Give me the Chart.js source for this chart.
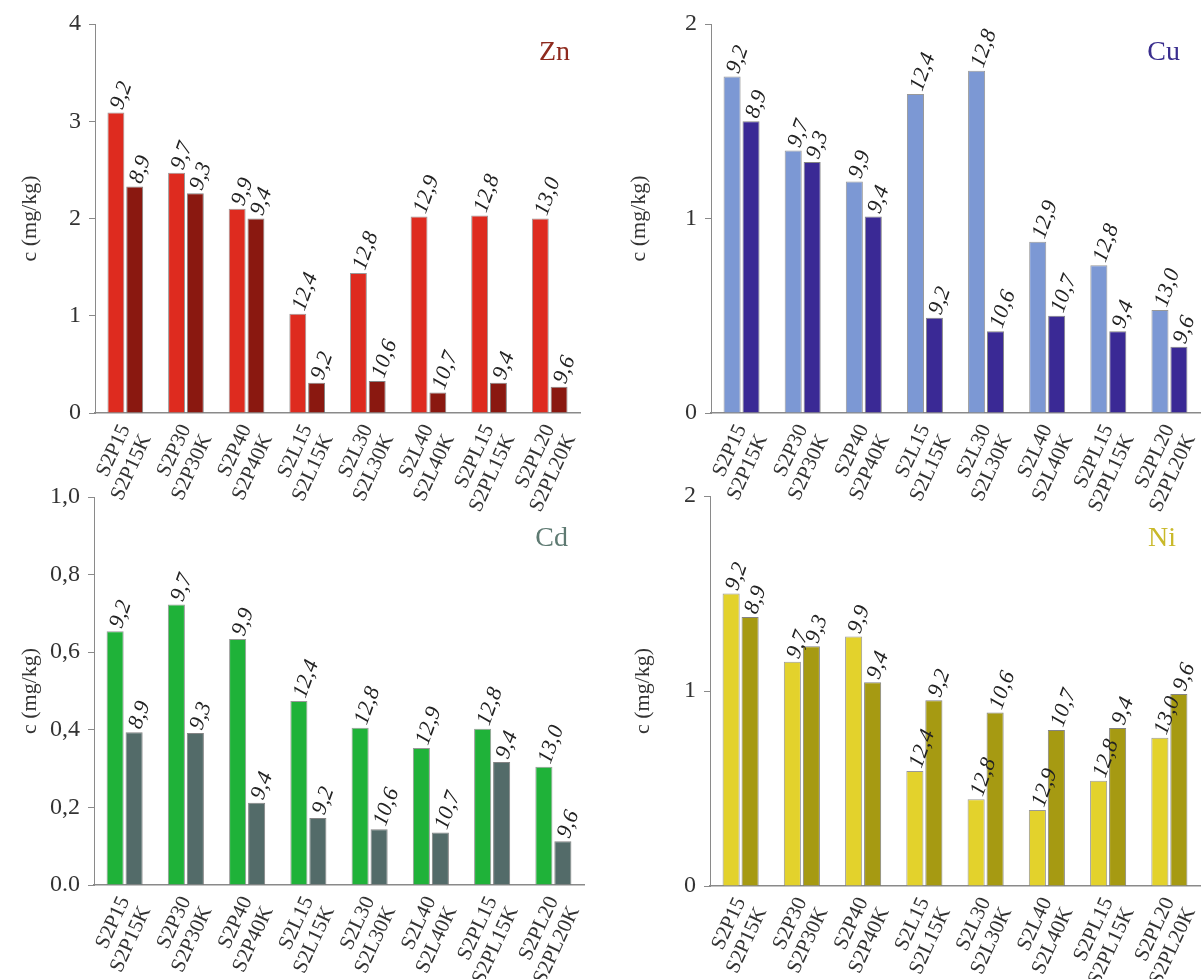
<!DOCTYPE html>
<html>
<head>
<meta charset="utf-8">
<script src="https://cdn.jsdelivr.net/npm/chart.js"></script>
<style>
  html, body { margin: 0; padding: 0; background: #fff; }
  #page { position: relative; width: 1201px; height: 979px; overflow: hidden; background: #fff; }
  canvas { position: absolute; }
</style>
</head>
<body>
<div id="page">
  <canvas id="zn"></canvas>
  <canvas id="cu"></canvas>
  <canvas id="cd"></canvas>
  <canvas id="ni"></canvas>
</div>
<script>
// samples (each group = plain sample + its "K" variant)
const samples = ['S2P15', 'S2P30', 'S2P40', 'S2L15', 'S2L30', 'S2L40', 'S2PL15', 'S2PL20'];
const samplesK = ['S2P15K', 'S2P30K', 'S2P40K', 'S2L15K', 'S2L30K', 'S2L40K', 'S2PL15K', 'S2PL20K'];

// numbers written above the bars
const ratioPlain = ['9,2', '9,7', '9,9', '12,4', '12,8', '12,9', '12,8', '13,0'];
const ratioK = ['8,9', '9,3', '9,4', '9,2', '10,6', '10,7', '9,4', '9,6'];

// concentrations c (mg/kg)
const znPlain = [3.09, 2.47, 2.10, 1.02, 1.44, 2.02, 2.03, 2.00];
const znK = [2.33, 2.26, 2.00, 0.31, 0.33, 0.21, 0.31, 0.27];
const cuPlain = [1.73, 1.35, 1.19, 1.64, 1.76, 0.88, 0.76, 0.53];
const cuK = [1.50, 1.29, 1.01, 0.49, 0.42, 0.50, 0.42, 0.34];
const cdPlain = [0.654, 0.723, 0.634, 0.474, 0.405, 0.353, 0.403, 0.305];
const cdK = [0.394, 0.392, 0.212, 0.173, 0.144, 0.135, 0.317, 0.113];
const niPlain = [1.50, 1.15, 1.28, 0.59, 0.445, 0.39, 0.54, 0.76];
const niK = [1.38, 1.23, 1.045, 0.953, 0.89, 0.80, 0.81, 0.985];

// y tick labels
const znTicks = ['0', '1', '2', '3', '4'];
const cuTicks = ['0', '1', '2'];
const cdTicks = ['0.0', '0,2', '0,4', '0,6', '0,8', '1,0'];
const niTicks = ['0', '1', '2'];

const SERIF = '"Liberation Serif", "Times New Roman", serif';

// rotated italic numbers over each bar
const barLabels = {
  id: 'barLabels',
  afterDatasetsDraw(chart) {
    const ctx = chart.ctx;
    chart.data.datasets.forEach((ds, i) => {
      chart.getDatasetMeta(i).data.forEach((bar, j) => {
        ctx.save();
        ctx.translate(bar.x + 1, bar.y - 4);
        ctx.rotate(-70 * Math.PI / 180);
        ctx.font = 'italic 22px ' + SERIF;
        ctx.fillStyle = '#222';
        ctx.textAlign = 'left';
        ctx.textBaseline = 'middle';
        ctx.fillText(ds.ratios[j], 0, 0);
        ctx.restore();
      });
    });
  }
};

// element name in the upper right corner
const elementName = {
  id: 'elementName',
  afterDraw(chart, args, opts) {
    const ctx = chart.ctx;
    const a = chart.chartArea;
    ctx.save();
    ctx.font = '28px ' + SERIF;
    ctx.fillStyle = opts.color;
    ctx.textAlign = 'right';
    ctx.textBaseline = 'middle';
    ctx.fillText(opts.text, a.right - opts.dx, a.top + opts.dy);
    ctx.restore();
  }
};

function makePanel(p) {
  const cv = document.getElementById(p.id);
  cv.width = p.w;
  cv.height = p.h;
  cv.style.left = p.x + 'px';
  cv.style.top = p.y + 'px';

  return new Chart(cv, {
    type: 'bar',
    data: {
      labels: samples.map((s, i) => [s, samplesK[i]]),
      datasets: [
        {
          data: p.plain, ratios: ratioPlain,
          backgroundColor: p.light, borderColor: 'rgba(70,70,70,0.55)', borderWidth: 1,
          barPercentage: 0.9, categoryPercentage: 0.62
        },
        {
          data: p.k, ratios: ratioK,
          backgroundColor: p.dark, borderColor: 'rgba(50,50,50,0.6)', borderWidth: 1,
          barPercentage: 0.9, categoryPercentage: 0.62
        }
      ]
    },
    options: {
      responsive: false,
      animation: false,
      devicePixelRatio: 1,
      layout: { padding: { left: 0, top: p.top, right: p.right, bottom: 0 } },
      plugins: {
        legend: { display: false },
        tooltip: { enabled: false },
        elementName: { text: p.name, color: p.nameColor, dx: p.nameDx, dy: p.nameDy }
      },
      scales: {
        x: {
          offset: true,
          grid: { display: false },
          border: { display: true, color: '#8a8a8a', width: 1.5 },
          ticks: {
            autoSkip: false,
            minRotation: 65, maxRotation: 65,
            padding: 0,
            color: '#333',
            font: { family: SERIF, size: 21, lineHeight: 1.1 }
          },
          afterFit(scale) {
            scale.height = p.h - p.bottom;
            // rotated labels should not push the plot edges inward
            scale.paddingLeft = 0;
            scale.paddingRight = 0;
          }
        },
        y: {
          min: 0, max: p.max,
          grid: { drawOnChartArea: false, drawTicks: true, tickLength: 6, color: '#8a8a8a' },
          border: { display: true, color: '#8a8a8a', width: 1 },
          ticks: {
            stepSize: p.step,
            padding: 8,
            color: '#333',
            font: { family: SERIF, size: 24 },
            callback: (v, i) => p.ticks[i]
          },
          title: {
            display: true,
            text: 'c (mg/kg)',
            color: '#333',
            font: { family: SERIF, size: 22 },
            padding: { top: p.titlePad, bottom: 0 }
          },
          afterFit(scale) { scale.width = p.left; }
        }
      }
    },
    plugins: [barLabels, elementName]
  });
}

const panels = [
  { id: 'zn', x: 0, y: 0, w: 600, h: 530, left: 95, right: 20, top: 24, bottom: 413, titlePad: 17,
    max: 4, step: 1, ticks: znTicks, plain: znPlain, k: znK,
    light: '#DE2B1F', dark: '#8A1810', name: 'Zn', nameColor: '#8E2A1E', nameDx: 10, nameDy: 29 },
  { id: 'cu', x: 600, y: 0, w: 601, h: 530, left: 111, right: 1, top: 24, bottom: 413, titlePad: 26,
    max: 2, step: 1, ticks: cuTicks, plain: cuPlain, k: cuK,
    light: '#7C98D4', dark: '#3A2995', name: 'Cu', nameColor: '#3A2E8E', nameDx: 20, nameDy: 29 },
  { id: 'cd', x: 0, y: 470, w: 600, h: 509, left: 94, right: 16, top: 27, bottom: 415, titlePad: 17,
    max: 1, step: 0.2, ticks: cdTicks, plain: cdPlain, k: cdK,
    light: '#1FB239', dark: '#536B69', name: 'Cd', nameColor: '#5E7A72', nameDx: 16, nameDy: 42 },
  { id: 'ni', x: 600, y: 470, w: 601, h: 509, left: 110, right: 1, top: 26, bottom: 416, titlePad: 30,
    max: 2, step: 1, ticks: niTicks, plain: niPlain, k: niK,
    light: '#E3D22C', dark: '#A69A12', name: 'Ni', nameColor: '#C9B92A', nameDx: 24, nameDy: 43 }
];

panels.forEach(makePanel);
</script>
</body>
</html>
